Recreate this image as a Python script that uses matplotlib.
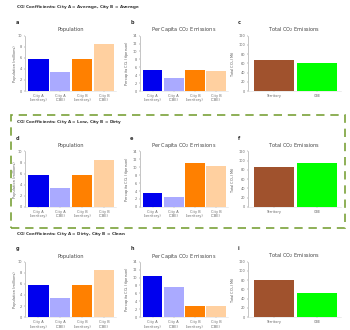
import matplotlib
matplotlib.use('Agg')
import matplotlib.pyplot as plt
from matplotlib.patches import Rectangle

# bar labels
city_labels = ['City A\n(territory)', 'City A\n(CBE)', 'City B\n(territory)', 'City B\n(CBE)']
total_labels = ['Territory', 'CBE']

# row headings
row_titles = ['CO$_2$ Coefficients: City A = Average, City B = Average',
              'CO$_2$ Coefficients: City A = Low, City B = Dirty',
              'CO$_2$ Coefficients: City A = Dirty, City B = Clean']
panel_titles = ['Population', 'Per Capita CO$_2$ Emissions', 'Total CO$_2$ Emissions']
panel_letters = ['abc', 'def', 'ghi']

# values
population = [5.8, 3.4, 5.8, 8.5]
per_capita_1 = [5.3, 3.4, 5.3, 5.0]
per_capita_2 = [3.6, 2.4, 11.2, 10.4]
per_capita_3 = [10.5, 7.6, 2.9, 2.9]
totals_1 = [68, 60]
totals_2 = [86, 94]
totals_3 = [80, 53]

per_capita = [per_capita_1, per_capita_2, per_capita_3]
totals = [totals_1, totals_2, totals_3]

city_colors = ['#0000ee', '#aaaaff', '#ff8000', '#ffd0a0']
total_colors = ['#a0522d', '#00ff00']

fig = plt.figure(figsize=(3.5, 3.3), dpi=100)

col_x = [0.072, 0.40, 0.708]
col_w = [0.26, 0.25, 0.265]
row_bottom = [0.724, 0.373, 0.039]
row_h = 0.168
row_title_y = [0.975, 0.627, 0.288]

def style(ax, ylabel, ymax, n):
    ax.set_ylim(0, ymax)
    ax.set_xlim(-0.6, n - 0.45)
    for s in ['top', 'right']:
        ax.spines[s].set_visible(False)
    ax.spines['left'].set_color('#999999')
    ax.spines['bottom'].set_color('#dddddd')
    ax.spines['left'].set_linewidth(0.4)
    ax.spines['bottom'].set_linewidth(0.4)
    ax.tick_params(axis='both', labelsize=2.5, length=1, width=0.3, pad=1, colors='#666666')
    ax.set_ylabel(ylabel, fontsize=2.5, labelpad=1, color='#555555')

for r in range(3):
    fig.text(0.045, row_title_y[r], row_titles[r], fontsize=3.0, fontweight='bold', color='#333333')
    axes = []
    for c in range(3):
        ax = fig.add_axes([col_x[c], row_bottom[r], col_w[c], row_h])
        axes.append(ax)
        ax.set_title(panel_titles[c], fontsize=3.6, pad=3, color='#444444')
        fig.text(col_x[c] - 0.028, row_bottom[r] + row_h + 0.035, panel_letters[r][c],
                 fontsize=3.6, fontweight='bold', color='#333333')
    axes[0].bar(city_labels, population, color=city_colors, width=0.93)
    style(axes[0], 'Population (millions)', 10, 4)
    axes[1].bar(city_labels, per_capita[r], color=city_colors, width=0.93)
    style(axes[1], 'Per capita CO$_2$ (t/person)', 14, 4)
    axes[2].bar(total_labels, totals[r], color=total_colors, width=0.93)
    style(axes[2], 'Total CO$_2$ (Mt)', 120, 2)

# dashed frame around the middle row
fig.patches.append(Rectangle((0.03, 0.31), 0.955, 0.34, transform=fig.transFigure,
                             fill=False, edgecolor='#7aa23a', linestyle=(0, (5, 3.5)),
                             linewidth=1.2))

fig.savefig('out.png', dpi=100, facecolor='white')
